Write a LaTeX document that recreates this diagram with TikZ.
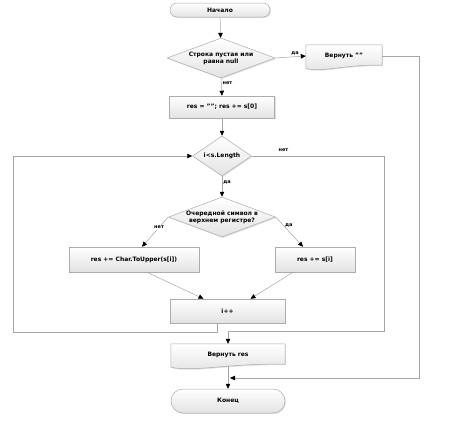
\documentclass[tikz,border=0pt]{standalone}
\usepackage{fontspec}
\setmainfont{DejaVu Sans}
\usetikzlibrary{shapes.geometric,arrows.meta,shadows,backgrounds,calc}

\tikzset{
    shade box/.style={draw=gray!65, line width=0.5pt, top color=white, bottom color=gray!22,
        drop shadow={opacity=0.25, shadow xshift=1pt, shadow yshift=-1pt}},
    terminal/.style={shade box, rectangle, inner sep=0pt},
    process/.style={shade box, rectangle, minimum height=24pt, inner sep=0pt},
    decision/.style={shade box, diamond, inner sep=0pt, minimum height=40pt},
    docbox/.style={rectangle, minimum height=22pt, inner sep=0pt},
    flow/.style={draw=gray!70, line width=0.5pt, -{Triangle[length=5pt, width=4.5pt, color=black]}},
    lbl/.style={font=\fontsize{5}{6}\selectfont\bfseries, inner sep=1pt},
}

\begin{document}
\begin{tikzpicture}[x=1pt, y=-1pt, font=\fontsize{6}{7}\selectfont\bfseries]
    \useasboundingbox (0,0) rectangle (452,424);

    % Start and first check
    \node[terminal, rounded corners=7pt, minimum width=100pt, minimum height=14pt] (start) at (220,10) {Начало};
    \node[decision, minimum width=108pt,
        label={[align=center]center:Строка пустая или\\равна null}] (d1) at (221,58) {};
    \node[docbox, minimum width=76pt] (ret1) at (344,56) {Вернуть ""};
    \node[process, minimum width=105pt, minimum height=22pt] (init) at (222,107) {res = ""; res += s[0]};

    % Loop
    \node[decision, minimum width=59pt, label=center:i<s.Length] (d2) at (222,156) {};
    \node[decision, minimum width=107pt,
        label={[align=center]center:Очередной символ в\\верхнем регистре?}] (d3) at (222,217) {};
    \node[process, minimum width=130pt, minimum height=25pt] (upper) at (134,259.5) {res += Char.ToUpper(s[i])};
    \node[process, minimum width=80pt, minimum height=25pt] (keep) at (315,259.5) {res += s[i]};
    \node[process, minimum width=115pt] (inc) at (227.5,311) {i++};

    % End
    \node[docbox, minimum width=114pt] (ret2) at (228,355) {Вернуть res};
    \node[terminal, rounded corners=12pt, minimum width=114pt, minimum height=24pt] (end) at (228,401) {Конец};

    % wavy bottoms of the output boxes
    \begin{scope}[on background layer]
        \foreach \n in {ret1,ret2}
            \path[shade box] (\n.north west) -- (\n.north east) -- ($(\n.south east)+(0,-2)$)
                .. controls ($(\n.south)+(0,-3)$) and ($(\n.south)!0.6!(\n.south west)+(0,6)$) ..
                ($(\n.south west)+(0,1)$) -- cycle;
    \end{scope}

    % Connectors
    \coordinate (joinR) at (419,378);
    \coordinate (joinC) at (230,378);
    \coordinate (loopL) at (13,156);
    \coordinate (exitR) at (384,331);

    \draw[flow] (start) -- (d1);
    \draw[flow] (d1.east) -- node[lbl, pos=0.65, above] {да} (ret1.west);
    \draw[flow] (ret1.east) -| (joinR) -- (joinC);
    \draw[flow] (d1.south) -- node[lbl, pos=0.3, right] {нет} (init.north);
    \draw[flow] (init.south) -- (d2.north);
    \draw[flow] (d2.south) -- node[lbl, pos=0.3, right] {да} (d3.north);
    \draw[flow] (d2.east) -| node[lbl, pos=0.12, above=3pt] {нет} (exitR) -| (ret2.north);
    \draw[flow] (d3.west) -- node[lbl, pos=0.35, fill=white] {нет} ([xshift=8pt]upper.north);
    \draw[flow] (d3.east) -- node[lbl, pos=0.3, right] {да} ([xshift=-12pt]keep.north);
    \draw[flow] ([xshift=13pt]upper.south) -- ([xshift=-24pt]inc.north);
    \draw[flow] ([xshift=-22pt]keep.south) -- ([xshift=23pt]inc.north);
    \draw[flow] ([xshift=-10pt]inc.south) -- ++(0,9) -| (loopL) -- (d2.west);
    \draw[flow] (ret2.south) -- (end.north);
\end{tikzpicture}
\end{document}
